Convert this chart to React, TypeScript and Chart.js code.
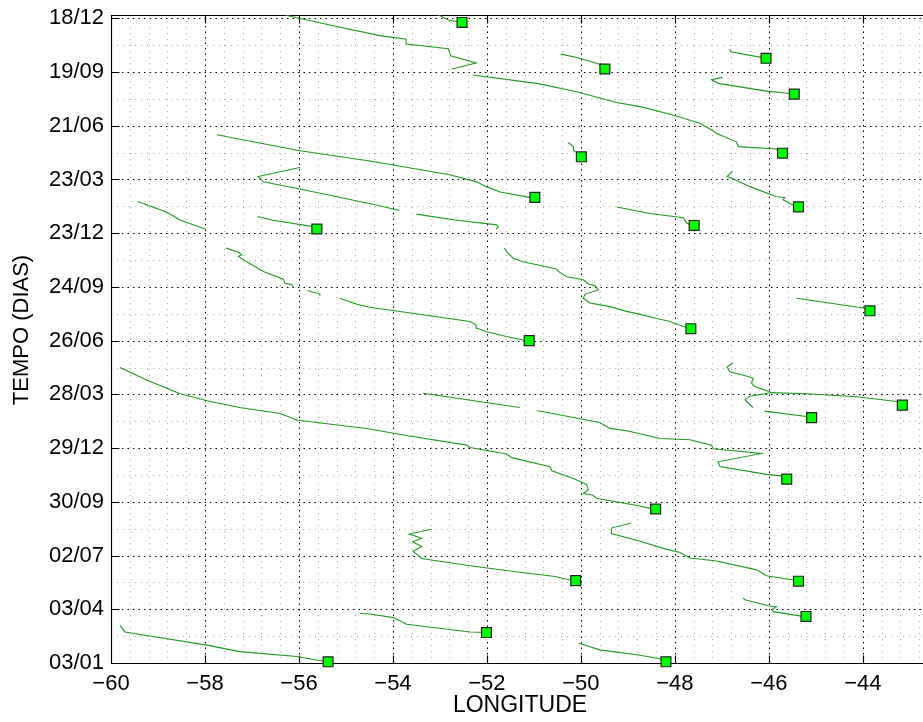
import React, { useEffect, useRef } from "react";
import { Chart, registerables } from "chart.js";

Chart.register(...registerables);

// ---- axis ticks ----
const dateLabels = ["03/01", "03/04", "02/07", "30/09", "29/12", "28/03", "26/06", "24/09", "23/12", "23/03", "21/06", "19/09", "18/12"];
const dayTicks = [0, 90, 180, 270, 360, 450, 540, 630, 720, 810, 900, 990, 1080];
const lonTicks = [-60, -58, -56, -54, -52, -50, -48, -46, -44];
const lonMin = -60;
const lonMax = -42.72;
const dayMin = 0;
const dayMax = 1085.5;

// ---- trajectories: [longitude, day] ; tracks marked with a square start at their first point ----
const t01 = [[-52.53, 1073], [-52.82, 1077], [-53.09, 1088]];
const t02 = [[-56.28, 1085], [-55.3, 1068], [-54.28, 1051], [-53.72, 1045], [-53.72, 1037], [-52.82, 1029], [-52.77, 1017], [-52.23, 1005], [-52.75, 995]];
const t03 = [[-49.49, 995], [-49.6, 1003], [-50.06, 1014], [-50.43, 1020]];
const t04 = [[-46.06, 1013], [-46.19, 1015], [-46.81, 1024], [-46.83, 1028]];
const t05 = [[-45.46, 953], [-45.55, 954], [-46.05, 958], [-47.08, 971], [-47.22, 977], [-46.99, 981]];
const t06 = [[-45.71, 854], [-45.84, 861], [-46.65, 865], [-46.69, 873], [-47.11, 887], [-47.22, 893], [-47.47, 904], [-48.04, 918], [-48.74, 932], [-49.24, 939], [-50.09, 957], [-50.94, 971], [-52.3, 985]];
const t07 = [[-49.99, 848], [-50.06, 854], [-50.15, 858], [-50.16, 865], [-50.27, 872]];
const t08 = [[-50.98, 780], [-51.09, 780], [-51.72, 789], [-52.01, 798], [-52.22, 806], [-52.79, 818], [-54.49, 841], [-55.98, 858], [-57.75, 885]];
const t09 = [[-55.98, 830], [-56.87, 815], [-56.76, 806], [-55.98, 794], [-54.28, 766], [-53.87, 758]];
const t10 = [[-53.5, 752], [-52.68, 742], [-51.79, 734], [-51.76, 730], [-51.81, 727]];
const t11 = [[-47.59, 733], [-47.68, 734], [-47.75, 737], [-47.82, 746], [-48.53, 753], [-49.24, 764]];
const t12 = [[-45.37, 764], [-45.48, 767], [-45.7, 776], [-45.66, 780], [-45.84, 781], [-46.4, 798], [-46.79, 812], [-46.89, 815], [-46.77, 824]];
const t13 = [[-59.43, 773], [-58.81, 755], [-58.53, 742], [-58.0, 727]];
const t14 = [[-55.62, 727], [-55.7, 731], [-56.58, 742], [-56.88, 748]];
const t15 = [[-57.55, 695], [-57.29, 688], [-57.22, 684], [-57.29, 681], [-57.11, 672], [-56.76, 656], [-56.33, 643], [-56.3, 636], [-56.16, 634], [-56.11, 629]];
const t16 = [[-55.82, 624], [-55.55, 618], [-55.56, 615]];
const t17 = [[-51.1, 540], [-51.23, 541], [-51.58, 547], [-52.01, 555], [-52.22, 561], [-52.23, 566], [-52.36, 572], [-54.49, 596], [-54.77, 601], [-55.13, 611]];
const t18 = [[-47.66, 560], [-47.75, 562], [-48.14, 573], [-48.39, 577], [-48.74, 584], [-49.03, 589], [-49.38, 597], [-49.81, 603], [-49.95, 611], [-49.91, 618], [-49.63, 625], [-49.7, 632], [-49.84, 635], [-49.95, 642], [-50.3, 647], [-50.48, 656], [-50.52, 660], [-51.23, 672], [-51.44, 678], [-51.58, 689], [-51.63, 695]];
const t19 = [[-43.85, 590], [-43.92, 594], [-45.41, 611]];
const t20 = [[-48.41, 258], [-48.53, 259], [-48.74, 263], [-49.67, 276], [-49.74, 281], [-49.95, 284], [-49.84, 290], [-49.88, 299], [-50.16, 309], [-50.62, 322], [-50.66, 329], [-51.47, 344], [-51.58, 350], [-52.36, 361], [-52.43, 365], [-53.78, 382], [-54.49, 392], [-56.05, 407], [-56.4, 418], [-57.26, 428], [-57.89, 438], [-58.53, 451], [-59.24, 474], [-59.81, 495]];
const t21 = [[-45.62, 308], [-45.7, 313], [-46.05, 316], [-47.04, 329], [-47.08, 337], [-46.16, 351], [-47.19, 359], [-47.22, 365], [-47.68, 374], [-48.32, 376], [-48.74, 384], [-49.03, 389], [-49.38, 393], [-49.6, 403], [-50.94, 423]];
const t22 = [[-51.3, 428], [-53.36, 452]];
const t23 = [[-43.16, 432], [-43.28, 438], [-44.13, 446], [-45.2, 451], [-45.94, 453], [-46.4, 447], [-46.51, 441], [-46.34, 428]];
const t24 = [[-45.94, 453], [-46.3, 463], [-46.37, 469], [-46.33, 477], [-46.44, 480], [-46.83, 488], [-46.89, 496], [-46.76, 503]];
const t25 = [[-45.09, 411], [-45.2, 413], [-46.09, 422]];
const t26 = [[-50.11, 138], [-50.23, 139], [-50.55, 145], [-51.3, 152], [-52.36, 163], [-53.39, 175], [-53.57, 187], [-53.39, 195], [-53.58, 203], [-53.39, 209], [-53.65, 216], [-53.18, 224]];
const t27 = [[-45.37, 137], [-45.48, 139], [-46.05, 146], [-46.26, 156], [-47.11, 171], [-47.68, 176], [-47.89, 185], [-48.25, 192], [-48.74, 204], [-49.35, 217], [-49.35, 226], [-48.94, 234]];
const t28 = [[-45.21, 78], [-45.34, 79], [-45.91, 86], [-45.92, 90], [-45.84, 94], [-46.01, 96], [-46.51, 106], [-46.55, 109]];
const t29 = [[-52.01, 51], [-52.36, 52], [-53.71, 65], [-53.99, 76], [-54.49, 82], [-54.7, 83]];
const t30 = [[-55.38, 2], [-55.48, 3], [-56.05, 11], [-57.26, 19], [-57.96, 30], [-59.31, 47], [-59.7, 52], [-59.81, 63]];
const t31 = [[-48.19, 2], [-48.32, 7], [-48.74, 13], [-49.6, 22], [-50.04, 33]];

const allTracks = [t01, t02, t03, t04, t05, t06, t07, t08, t09, t10, t11, t12, t13, t14, t15, t16, t17, t18, t19, t20, t21, t22, t23, t24, t25, t26, t27, t28, t29, t30, t31];
const markedTracks = [t01, t03, t04, t05, t06, t07, t08, t11, t12, t14, t17, t18, t19, t20, t21, t23, t25, t26, t27, t28, t29, t30, t31];

const FONT = '"Liberation Sans", Arial, Helvetica, sans-serif';
const LINE_COLOR = "#1f9a1f";

const axesPlugin = {
  id: "matlabAxes",
  beforeDatasetsDraw(chart: any) {
    const { ctx, chartArea: a } = chart;
    const xs = chart.scales.x;
    const ys = chart.scales.y;
    const snap = (v: number) => Math.round(v) + 0.5;
    ctx.save();
    ctx.beginPath();
    ctx.rect(a.left, a.top, a.right - a.left, a.bottom - a.top);
    ctx.clip();
    ctx.lineWidth = 1;
    // minor grid
    ctx.strokeStyle = "#a8a8a8";
    ctx.setLineDash([1, 5]);
    ctx.beginPath();
    for (let i = 0; i <= 44; i++) {
      if (i % 5 === 0) continue;
      const v = lonMin + i * 0.4;
      if (v > lonMax) break;
      const px = snap(xs.getPixelForValue(v));
      ctx.moveTo(px, a.top);
      ctx.lineTo(px, a.bottom);
    }
    for (let k = 0; k < dayTicks.length; k++) {
      const v = dayTicks[k] + 45;
      if (v > dayMax) break;
      const py = snap(ys.getPixelForValue(v));
      ctx.moveTo(a.left, py);
      ctx.lineTo(a.right, py);
    }
    ctx.stroke();
    // major grid
    ctx.strokeStyle = "#000";
    ctx.setLineDash([1.5, 4]);
    ctx.beginPath();
    lonTicks.forEach((v) => {
      const px = snap(xs.getPixelForValue(v));
      ctx.moveTo(px, a.top);
      ctx.lineTo(px, a.bottom);
    });
    dayTicks.forEach((v) => {
      const py = snap(ys.getPixelForValue(v));
      ctx.moveTo(a.left, py);
      ctx.lineTo(a.right, py);
    });
    ctx.stroke();
    ctx.restore();

    // axes box and inward ticks
    ctx.save();
    ctx.strokeStyle = "#000";
    ctx.lineWidth = 1.2;
    ctx.setLineDash([]);
    ctx.beginPath();
    const L = snap(a.left), B = snap(a.bottom), T = snap(a.top);
    ctx.moveTo(a.right, T);
    ctx.lineTo(L, T);
    ctx.lineTo(L, B);
    ctx.lineTo(a.right, B);
    lonTicks.forEach((v) => {
      const px = snap(xs.getPixelForValue(v));
      ctx.moveTo(px, B);
      ctx.lineTo(px, B - 8);
      ctx.moveTo(px, T);
      ctx.lineTo(px, T + 8);
    });
    dayTicks.forEach((v) => {
      const py = snap(ys.getPixelForValue(v));
      ctx.moveTo(L, py);
      ctx.lineTo(L + 8, py);
    });
    ctx.stroke();
    ctx.restore();
  },
  afterDraw(chart: any) {
    const { ctx } = chart;
    ctx.save();
    ctx.fillStyle = "#000";
    ctx.textAlign = "center";
    ctx.textBaseline = "middle";
    ctx.font = `23px ${FONT}`;
    ctx.fillText("LONGITUDE", 520, 706);
    ctx.font = `22px ${FONT}`;
    ctx.translate(22, 330);
    ctx.rotate(-Math.PI / 2);
    ctx.fillText("TEMPO (DIAS)", 0, 0);
    ctx.restore();
  },
};

export default function App() {
  const ref = useRef<HTMLCanvasElement>(null);
  useEffect(() => {
    if (!ref.current) return;
    const toXY = (t: number[][]) => t.map((p) => ({ x: p[0], y: p[1] }));
    const lineSets = allTracks.map((t) => ({
      type: "scatter" as const,
      data: toXY(t),
      showLine: true,
      borderColor: LINE_COLOR,
      backgroundColor: LINE_COLOR,
      borderWidth: 1.1,
      pointRadius: 0,
      tension: 0,
    }));
    const markerSet = {
      type: "scatter" as const,
      data: markedTracks.map((t) => ({ x: t[0][0], y: t[0][1] })),
      showLine: false,
      pointStyle: "rect",
      pointRadius: 7,
      backgroundColor: "#00ff00",
      borderColor: "#222",
      borderWidth: 1.2,
      clip: false as any,
    };
    const chart = new Chart(ref.current, {
      type: "scatter",
      data: { datasets: [markerSet as any, ...lineSets] },
      options: {
        animation: false,
        responsive: false,
        devicePixelRatio: 1,
        layout: { autoPadding: false, padding: { top: 15, right: 0, bottom: 0, left: 0 } },
        plugins: { legend: { display: false }, tooltip: { enabled: false } },
        scales: {
          x: {
            type: "linear",
            min: lonMin,
            max: lonMax,
            afterBuildTicks: (s: any) => {
              s.ticks = lonTicks.map((v) => ({ value: v }));
            },
            afterFit: (s: any) => {
              s.height = 59;
              s.paddingLeft = 0;
              s.paddingRight = 0;
              s.paddingTop = 0;
              s.paddingBottom = 0;
            },
            grid: { display: false, drawTicks: false },
            border: { display: false },
            ticks: {
              color: "#000",
              padding: 8,
              maxRotation: 0,
              autoSkip: false,
              font: { size: 22, family: FONT },
              callback: (v: any) => (Number(v) < 0 ? "\u2212" + Math.abs(Number(v)) : String(v)),
            },
          },
          y: {
            type: "linear",
            min: dayMin,
            max: dayMax,
            afterBuildTicks: (s: any) => {
              s.ticks = dayTicks.map((v) => ({ value: v }));
            },
            afterFit: (s: any) => {
              s.width = 111;
              s.paddingTop = 0;
              s.paddingBottom = 0;
              s.paddingLeft = 0;
              s.paddingRight = 0;
            },
            grid: { display: false, drawTicks: false },
            border: { display: false },
            ticks: {
              color: "#000",
              padding: 7,
              autoSkip: false,
              font: { size: 22, family: FONT },
              callback: (v: any) => {
                const i = dayTicks.indexOf(Number(v));
                return i >= 0 ? dateLabels[i] : "";
              },
            },
          },
        },
      },
      plugins: [axesPlugin],
    });
    return () => chart.destroy();
  }, []);
  return (
    <div style={{ position: "fixed", left: 0, top: 0, width: 923, height: 722, background: "#fff" }}>
      <canvas ref={ref} width={923} height={722} style={{ display: "block" }} />
    </div>
  );
}
